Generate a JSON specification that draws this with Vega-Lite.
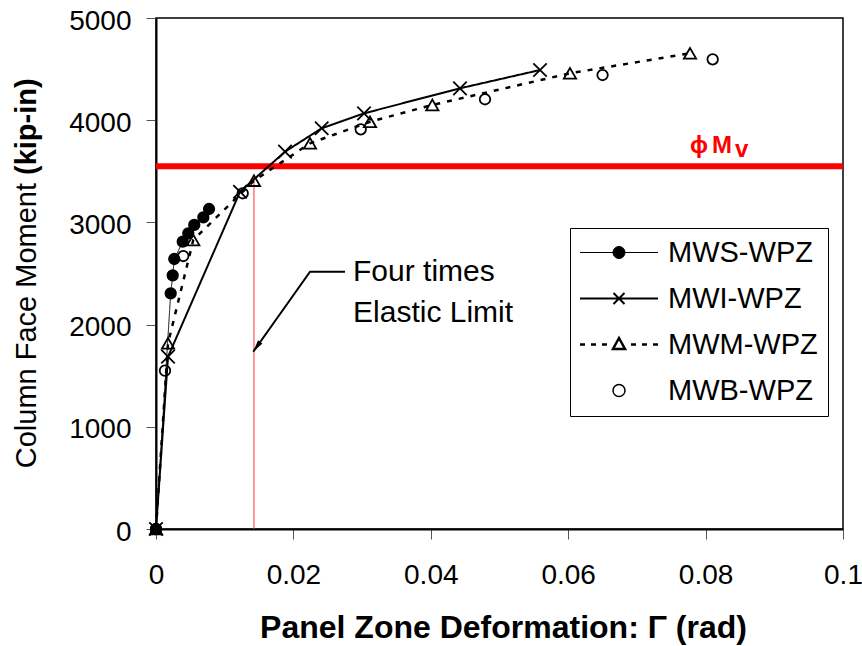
{
  "$schema": "https://vega.github.io/schema/vega-lite/v6.json",
  "width": 687,
  "height": 511,
  "autosize": {"type": "none"},
  "padding": {"left": 156, "top": 18, "right": 19, "bottom": 117},
  "background": "white",
  "config": {
    "font": "Liberation Sans",
    "view": {"stroke": "black", "strokeWidth": 1.5},
    "axis": {
      "grid": false,
      "labelFont": "Liberation Sans",
      "labelFontSize": 28,
      "labelColor": "black",
      "tickSize": 10,
      "tickColor": "#555555",
      "tickWidth": 1,
      "domainColor": "black",
      "domainWidth": 2,
      "titleFont": "Liberation Sans",
      "titleColor": "black"
    }
  },
  "datasets": {
    "curves": [
      {"series": "MWS-WPZ", "gamma": 0, "moment": 0},
      {"series": "MWS-WPZ", "gamma": 0.00214, "moment": 2306},
      {"series": "MWS-WPZ", "gamma": 0.00243, "moment": 2482},
      {"series": "MWS-WPZ", "gamma": 0.00266, "moment": 2642},
      {"series": "MWS-WPZ", "gamma": 0.00389, "moment": 2811},
      {"series": "MWS-WPZ", "gamma": 0.0047, "moment": 2893},
      {"series": "MWS-WPZ", "gamma": 0.00557, "moment": 2975},
      {"series": "MWS-WPZ", "gamma": 0.00689, "moment": 3050},
      {"series": "MWS-WPZ", "gamma": 0.00772, "moment": 3131},
      {"series": "MWI-WPZ", "gamma": 0, "moment": 0},
      {"series": "MWI-WPZ", "gamma": 0.00175, "moment": 1686},
      {"series": "MWI-WPZ", "gamma": 0.01223, "moment": 3300},
      {"series": "MWI-WPZ", "gamma": 0.01878, "moment": 3692},
      {"series": "MWI-WPZ", "gamma": 0.02412, "moment": 3921},
      {"series": "MWI-WPZ", "gamma": 0.03028, "moment": 4067},
      {"series": "MWI-WPZ", "gamma": 0.04425, "moment": 4312},
      {"series": "MWI-WPZ", "gamma": 0.0559, "moment": 4491},
      {"series": "MWM-WPZ", "gamma": 0, "moment": 0},
      {"series": "MWM-WPZ", "gamma": 0.00175, "moment": 1817},
      {"series": "MWM-WPZ", "gamma": 0.00543, "moment": 2828},
      {"series": "MWM-WPZ", "gamma": 0.01426, "moment": 3408},
      {"series": "MWM-WPZ", "gamma": 0.02242, "moment": 3774},
      {"series": "MWM-WPZ", "gamma": 0.03115, "moment": 3985},
      {"series": "MWM-WPZ", "gamma": 0.04022, "moment": 4149},
      {"series": "MWM-WPZ", "gamma": 0.06026, "moment": 4459},
      {"series": "MWM-WPZ", "gamma": 0.07773, "moment": 4655},
      {"series": "MWB-WPZ", "gamma": 0, "moment": 0},
      {"series": "MWB-WPZ", "gamma": 0.00131, "moment": 1549},
      {"series": "MWB-WPZ", "gamma": 0.00397, "moment": 2671},
      {"series": "MWB-WPZ", "gamma": 0.01262, "moment": 3285},
      {"series": "MWB-WPZ", "gamma": 0.0298, "moment": 3911},
      {"series": "MWB-WPZ", "gamma": 0.04789, "moment": 4205},
      {"series": "MWB-WPZ", "gamma": 0.065, "moment": 4442},
      {"series": "MWB-WPZ", "gamma": 0.08103, "moment": 4596}
    ],
    "limit": [{"moment": 3550}],
    "elastic": [{"gamma": 0.01426, "m_lo": 0, "m_hi": 3450}],
    "arrow": [
      {"gamma": 0.02751, "moment": 2518, "seq": 1},
      {"gamma": 0.02242, "moment": 2518, "seq": 2},
      {"gamma": 0.01416, "moment": 1735, "seq": 3}
    ],
    "arrowhead": [{"gamma": 0.01467, "moment": 1783}],
    "note": [
      {"gamma": 0.02868, "moment": 2430, "label": "Four times"},
      {"gamma": 0.02868, "moment": 2028, "label": "Elastic Limit"}
    ],
    "mlabel": [
      {"gamma": 0.07773, "moment": 3679, "label": "ϕ"},
      {"gamma": 0.08093, "moment": 3679, "label": "M"},
      {"gamma": 0.08428, "moment": 3640, "label": "v"}
    ],
    "ytitle": [{"gamma": -0.01747, "moment": 3386, "label": "Column Face Moment"}],
    "yunit": [{"gamma": -0.01747, "moment": 3464, "label": "(kip-in)"}]
  },
  "layer": [
    {
      "data": {"name": "limit"},
      "mark": {"type": "rule", "color": "#FF0000", "strokeWidth": 6},
      "encoding": {
        "y": {"field": "moment", "type": "quantitative", "scale": {"domain": [0, 5000], "nice": false, "zero": false},
          "axis": {"values": [0, 1000, 2000, 3000, 4000, 5000], "format": "d", "title": null,
            "labelPadding": 15, "labelBaseline": "middle", "labelOffset": 3}}
      }
    },
    {
      "data": {"name": "elastic"},
      "mark": {"type": "rule", "color": "#FF3333", "strokeWidth": 1},
      "encoding": {
        "x": {"field": "gamma", "type": "quantitative", "scale": {"domain": [0, 0.1], "nice": false, "zero": false},
          "axis": {"values": [0, 0.02, 0.04, 0.06, 0.08, 0.1], "format": "~g", "title": "Panel Zone Deformation: Γ (rad)",
            "titleFontSize": 32, "titleFontWeight": "bold", "titleX": 347, "titleY": 108, "titleBaseline": "alphabetic",
            "titleAlign": "center", "labelBaseline": "alphabetic", "labelPadding": 44, "labelFlush": false}},
        "y": {"field": "m_lo", "type": "quantitative"},
        "y2": {"field": "m_hi"}
      }
    },
    {
      "data": {"name": "curves"},
      "transform": [{"filter": "datum.series !== 'MWB-WPZ'"}],
      "mark": {"type": "line", "color": "black"},
      "encoding": {
        "x": {"field": "gamma", "type": "quantitative"},
        "y": {"field": "moment", "type": "quantitative"},
        "strokeDash": {"field": "series", "type": "nominal", "legend": null,
          "scale": {"domain": ["MWS-WPZ", "MWI-WPZ", "MWM-WPZ"], "range": [[1, 0], [1, 0], [5, 7]]}},
        "strokeWidth": {"field": "series", "type": "nominal",
          "scale": {"type": "ordinal", "domain": ["MWS-WPZ", "MWI-WPZ", "MWM-WPZ", "MWB-WPZ"], "range": [1, 2, 2.5, 1.5]},
          "legend": {
            "orient": "none", "legendX": 414, "legendY": 210, "title": null,
            "strokeColor": "black", "fillColor": "white", "padding": 10,
            "labelFont": "Liberation Sans", "labelFontSize": 29, "labelColor": "black",
            "labelOffset": 34.5, "symbolOffset": 24.5, "symbolSize": 100, "rowPadding": 16,
            "symbolStrokeColor": "black", "symbolOpacity": 1,
            "symbolType": {"expr": "datum.value === 'MWS-WPZ' ? 'M-7.8,0H-1.2M1.2,0H7.8M-1.2,0A1.2,1.2,0,1,0,1.2,0A1.2,1.2,0,1,0,-1.2,0Z' : datum.value === 'MWI-WPZ' ? 'M-7.8,0H7.8M-1.1,-1.1L1.1,1.1M-1.1,1.1L1.1,-1.1' : datum.value === 'MWM-WPZ' ? 'M-7.8,0H-6.8M-5.6,0H-4.6M-3.4,0H-2.4M2.4,0H3.4M4.6,0H5.6M6.8,0H7.8M0,-1.3L1.2,0.9L-1.2,0.9Z' : 'M-1.2,0A1.2,1.2,0,1,0,1.2,0A1.2,1.2,0,1,0,-1.2,0Z'"},
            "symbolFillColor": {"expr": "datum.value === 'MWS-WPZ' ? 'black' : 'transparent'"}
          }
        }
      }
    },
    {
      "data": {"name": "curves"},
      "mark": {"type": "point", "stroke": "black", "strokeWidth": 1.8, "opacity": 1},
      "encoding": {
        "x": {"field": "gamma", "type": "quantitative"},
        "y": {"field": "moment", "type": "quantitative"},
        "shape": {"field": "series", "type": "nominal", "legend": null,
          "scale": {"range": ["circle", "M-1,-1L1,1M-1,1L1,-1", "triangle-up", "circle"]}},
        "fill": {"field": "series", "type": "nominal", "legend": null,
          "scale": {"range": ["transparent", "transparent", "transparent", "black"]}},
        "size": {"field": "series", "type": "nominal", "legend": null,
          "scale": {"type": "ordinal", "range": [110, 180, 150, 110]}}
      }
    },
    {
      "data": {"name": "arrow"},
      "mark": {"type": "line", "color": "black", "strokeWidth": 2},
      "encoding": {
        "x": {"field": "gamma", "type": "quantitative"},
        "y": {"field": "moment", "type": "quantitative"},
        "order": {"field": "seq", "type": "quantitative"}
      }
    },
    {
      "data": {"name": "arrowhead"},
      "mark": {"type": "point", "shape": "M0,-1L0.45,1L-0.45,1Z", "size": 144, "angle": 215, "filled": true, "color": "black", "opacity": 1},
      "encoding": {
        "x": {"field": "gamma", "type": "quantitative"},
        "y": {"field": "moment", "type": "quantitative"}
      }
    },
    {
      "data": {"name": "note"},
      "mark": {"type": "text", "font": "Liberation Sans", "fontSize": 30, "align": "left", "baseline": "alphabetic", "color": "black"},
      "encoding": {
        "x": {"field": "gamma", "type": "quantitative"},
        "y": {"field": "moment", "type": "quantitative"},
        "text": {"field": "label"}
      }
    },
    {
      "data": {"name": "mlabel"},
      "mark": {"type": "text", "font": "Liberation Sans, DejaVu Sans", "fontSize": 24, "fontWeight": "bold", "align": "left", "baseline": "alphabetic", "color": "#FF0000"},
      "encoding": {
        "x": {"field": "gamma", "type": "quantitative"},
        "y": {"field": "moment", "type": "quantitative"},
        "text": {"field": "label"}
      }
    },
    {
      "data": {"name": "ytitle"},
      "mark": {"type": "text", "font": "Liberation Sans", "fontSize": 29, "fontWeight": "normal", "align": "right", "baseline": "alphabetic", "angle": 270, "color": "black"},
      "encoding": {
        "x": {"field": "gamma", "type": "quantitative"},
        "y": {"field": "moment", "type": "quantitative"},
        "text": {"field": "label"}
      }
    },
    {
      "data": {"name": "yunit"},
      "mark": {"type": "text", "font": "Liberation Sans", "fontSize": 29, "fontWeight": "bold", "align": "left", "baseline": "alphabetic", "angle": 270, "color": "black"},
      "encoding": {
        "x": {"field": "gamma", "type": "quantitative"},
        "y": {"field": "moment", "type": "quantitative"},
        "text": {"field": "label"}
      }
    }
  ]
}
